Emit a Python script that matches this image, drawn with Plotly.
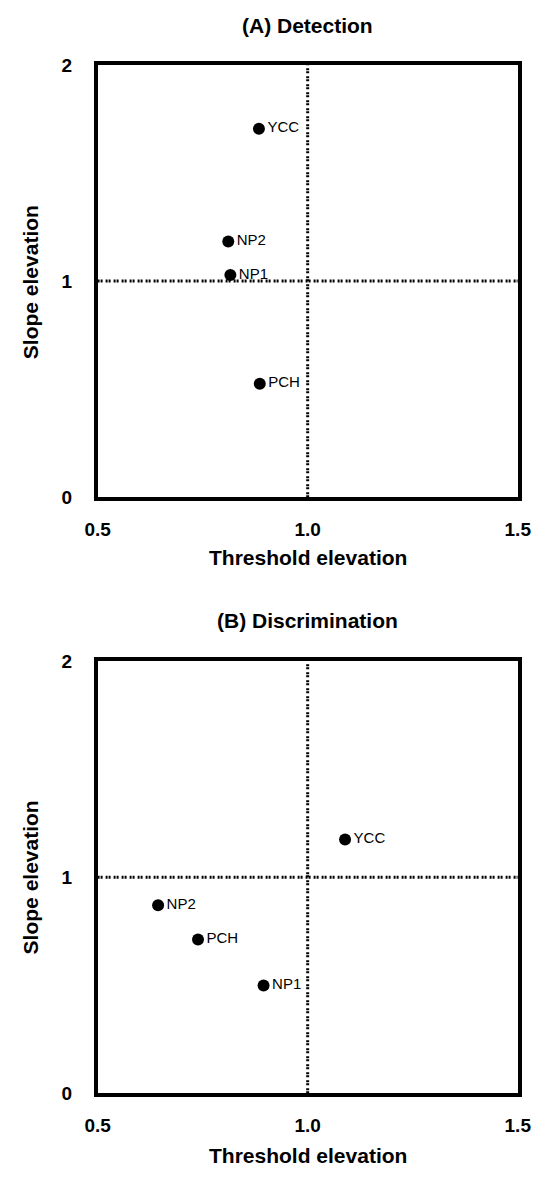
import plotly.graph_objects as go

labels_a = ["YCC", "NP2", "NP1", "PCH"]
thr_a = [0.884, 0.811, 0.816, 0.886]
slope_a = [1.705, 1.183, 1.028, 0.525]

labels_b = ["YCC", "NP2", "PCH", "NP1"]
thr_b = [1.089, 0.644, 0.739, 0.895]
slope_b = [1.175, 0.871, 0.712, 0.499]

x_ticks = [0.5, 1.0, 1.5]
x_ticklabels = ["0.5", "1.0", "1.5"]
y_ticks = [0, 1, 2]
y_ticklabels = ["0", "1", "2"]

FONT = "Liberation Sans, Arial, sans-serif"
W, H = 546, 1179

fig = go.Figure()

panels = [
    ("x", "y", thr_a, slope_a, labels_a),
    ("x2", "y2", thr_b, slope_b, labels_b),
]
for xa, ya, xs, ys, labs in panels:
    fig.add_trace(go.Scatter(x=[0.5, 1.5], y=[1, 1], mode="lines", xaxis=xa, yaxis=ya,
                             line=dict(color="black", width=3, dash="2px,1px,2px,3px"),
                             showlegend=False, hoverinfo="skip"))
    fig.add_trace(go.Scatter(x=[1.0, 1.0], y=[0, 2], mode="lines", xaxis=xa, yaxis=ya,
                             line=dict(color="black", width=3, dash="2px,1px,2px,3px"),
                             showlegend=False, hoverinfo="skip"))
    fig.add_trace(go.Scatter(x=xs, y=ys, mode="markers+text", text=labs,
                             textposition="middle right", xaxis=xa, yaxis=ya,
                             marker=dict(color="black", size=12),
                             textfont=dict(family=FONT, size=15, color="black"),
                             showlegend=False, cliponaxis=False))

axis_common = dict(showline=True, mirror=True, linecolor="black", linewidth=3.5,
                   showgrid=False, zeroline=False, ticks="",
                   tickfont=dict(family=FONT, size=19, color="black", weight="bold"))

dom_x = [89 / W, 531 / W]
dom_a = [1 - 496 / H, 1 - 56 / H]
dom_b = [1 - 1103 / H, 1 - 663 / H]

fig.update_layout(
    width=W, height=H,
    margin=dict(l=0, r=0, t=0, b=0),
    paper_bgcolor="white", plot_bgcolor="white",
    xaxis=dict(domain=dom_x, range=[0.5, 1.5], tickvals=x_ticks, ticktext=x_ticklabels,
               anchor="y", ticklabelstandoff=12, **axis_common),
    yaxis=dict(domain=dom_a, range=[0, 2], tickvals=y_ticks, ticktext=y_ticklabels,
               anchor="x", ticklabelstandoff=18, **axis_common),
    xaxis2=dict(domain=dom_x, range=[0.5, 1.5], tickvals=x_ticks, ticktext=x_ticklabels,
                anchor="y2", ticklabelstandoff=12, **axis_common),
    yaxis2=dict(domain=dom_b, range=[0, 2], tickvals=y_ticks, ticktext=y_ticklabels,
                anchor="x2", ticklabelstandoff=18, **axis_common),
)

title_font = dict(family=FONT, size=21, color="black", weight="bold")
ann = [
    ("(A) Detection", 310, 16, 0),
    ("(B) Discrimination", 310, 622, 0),
    ("Threshold elevation", 310, 557, 0),
    ("Threshold elevation", 310, 1166, 0),
    ("Slope elevation", 18, 277, -90),
    ("Slope elevation", 18, 883, -90),
]
for txt, px, py, ang in ann:
    fig.add_annotation(text=txt, x=px / W, y=1 - py / H, xref="paper", yref="paper",
                       showarrow=False, textangle=ang, font=title_font,
                       xanchor="center", yanchor="middle")

fig.write_html("out.html")
